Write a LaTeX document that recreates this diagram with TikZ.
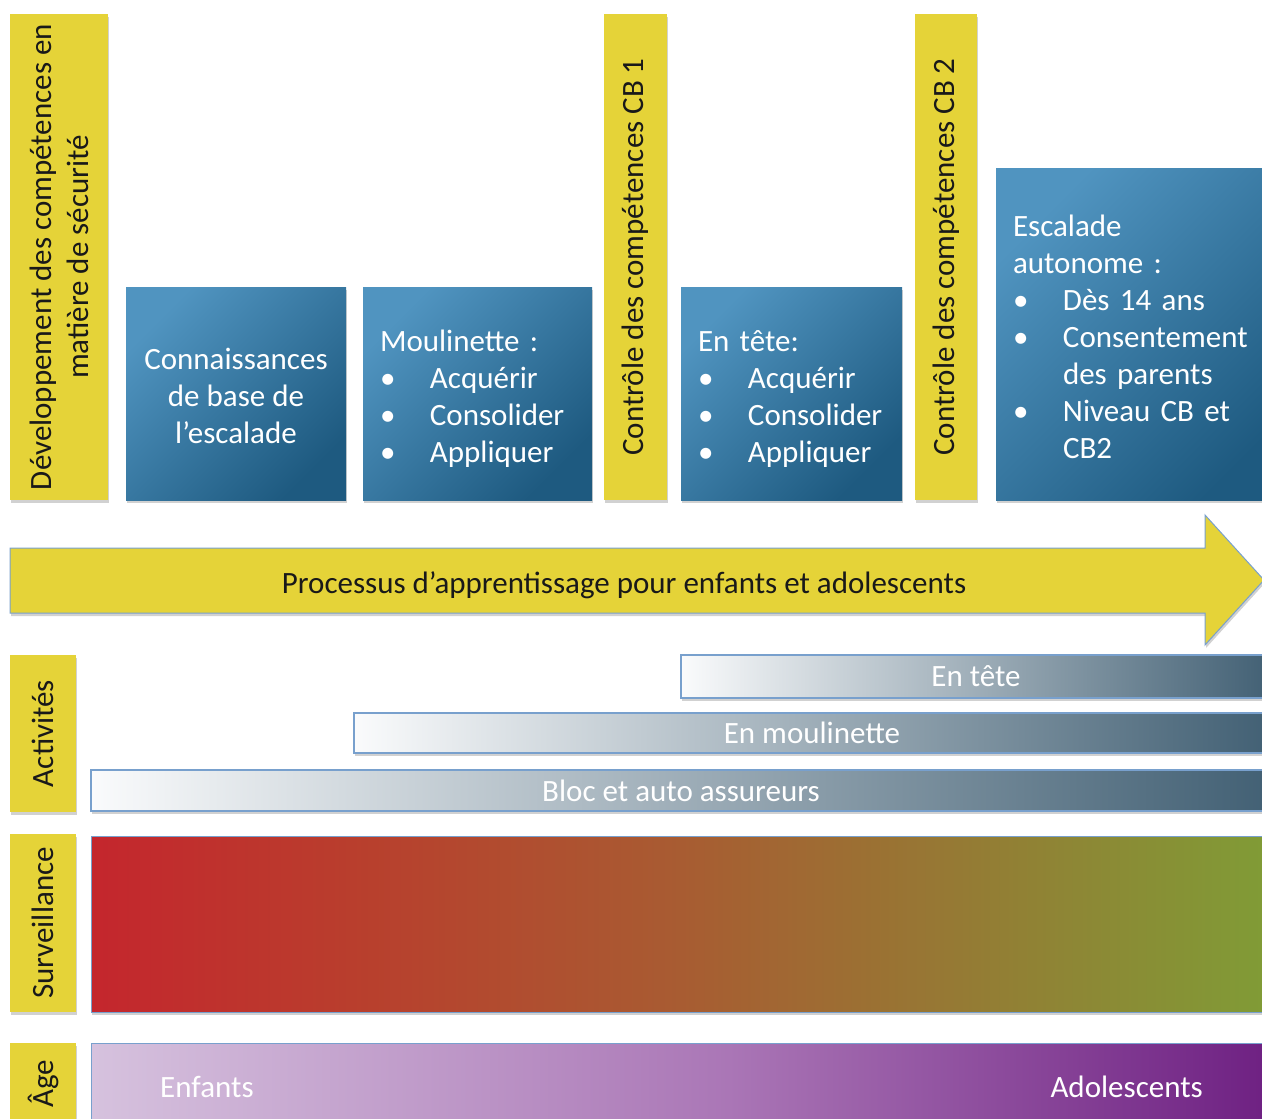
\documentclass[tikz,border=0pt]{standalone}
\usepackage{fontspec}
\setmainfont{Carlito}
\usepackage{tikz}
\usetikzlibrary{positioning,shadows}
\definecolor{cbyellow}{RGB}{229,211,56}
\definecolor{cbink}{RGB}{25,25,25}
\definecolor{cbbluelt}{RGB}{80,148,192}
\definecolor{cbbluedk}{RGB}{30,90,128}
\definecolor{cbedge}{RGB}{120,160,205}
\definecolor{cbbarlt}{RGB}{250,251,252}
\definecolor{cbbardk}{RGB}{66,96,116}
\definecolor{cbred}{RGB}{196,38,45}
\definecolor{cbrust}{RGB}{185,62,45}
\definecolor{cbbrown}{RGB}{168,92,50}
\definecolor{cbolive}{RGB}{128,156,54}
\definecolor{cblilac}{RGB}{214,194,222}
\definecolor{cbmauve}{RGB}{170,118,182}
\definecolor{cbpurple}{RGB}{110,32,130}
\pgfdeclarehorizontalshading{survshade}{100bp}{color(0bp)=(cbred); color(25bp)=(cbred); color(36bp)=(cbrust); color(50bp)=(cbbrown); color(75bp)=(cbolive); color(100bp)=(cbolive)}
\pgfdeclarehorizontalshading{ageshade}{100bp}{color(0bp)=(cblilac); color(25bp)=(cblilac); color(52bp)=(cbmauve); color(75bp)=(cbpurple); color(100bp)=(cbpurple)}
\newcommand{\bul}{\makebox[50pt][l]{\textbullet}}
\newcommand{\ind}{\hspace*{50pt}}
\tikzset{
  softshadow/.style={drop shadow={shadow xshift=1pt, shadow yshift=-3pt, opacity=0.3, fill=black!60}},
  yelbox/.style={fill=cbyellow, text=cbink, rotate=90, align=center, inner sep=0pt, softshadow},
  bluebox/.style={top color=cbbluelt, bottom color=cbbluedk, shading angle=45, text=white,
    align=left, inner xsep=17pt, inner ysep=0pt, minimum height=213pt, softshadow},
  actbar/.style={left color=cbbarlt, right color=cbbardk, draw=cbedge, line width=1.5pt,
    text=white, inner sep=0pt, softshadow},
}
\begin{document}
\begin{tikzpicture}[x=1pt, y=-1pt, font=\fontsize{31}{37}\selectfont]
  \useasboundingbox (0,0) rectangle (1262,1119);
  \clip (0,0) rectangle (1262,1119);
  % tall yellow columns
  \node[yelbox, minimum width=486pt, minimum height=98pt] (devsec) at (59,257)
    {Développement des compétences en\\matière de sécurité};
  \node[yelbox, minimum width=486pt, minimum height=63pt] (cbun) at (635.5,257)
    {Contrôle des compétences CB 1};
  \node[yelbox, minimum width=486pt, minimum height=62pt] (cbdeux) at (946,257)
    {Contrôle des compétences CB 2};
  % blue steps
  \node[bluebox, align=center, minimum width=220pt] (connbase) at (236,393.5)
    {\rule{0pt}{27pt}Connaissances\\de base de\\l’escalade};
  \node[bluebox, text width=195pt] (moulin) at (477.5,393.5)
    {\rule{0pt}{31pt}Moulinette :\\\bul Acquérir\\\bul Consolider\\\bul Appliquer};
  \node[bluebox, text width=187pt] (entete) at (791.5,393.5)
    {\rule{0pt}{31pt}En tête:\\\bul Acquérir\\\bul Consolider\\\bul Appliquer};
  \node[bluebox, text width=266pt, minimum height=332pt] (autonome) at (1146,334)
    {\rule{0pt}{27pt}Escalade\\autonome :\\\bul Dès 14 ans\\\bul Consentement\\\ind des parents\\\bul Niveau CB et\\\ind CB2};
  % big arrow
  \draw[fill=cbyellow, draw=cbedge, line width=1pt, softshadow]
    (10,548) -- (1205,548) -- (1205,515) -- (1264,580) -- (1205,645) -- (1205,613) -- (10,613) -- cycle;
  \node[text=cbink] (proc) at (624,585) {Processus d’apprentissage pour enfants et adolescents};
  % row labels
  \node[yelbox, minimum width=157pt, minimum height=66pt] (act) at (43,733.5) {Activités};
  \node[yelbox, minimum width=178pt, minimum height=66pt] (surv) at (43,923) {Surveillance};
  \node[yelbox, minimum width=82pt, minimum height=66pt] (age) at (43,1084) {Âge};
  % activity bars
  \node[actbar, minimum width=590pt, minimum height=43pt] (bartete) at (976,676.5) {En tête};
  \node[actbar, minimum width=916pt, minimum height=40pt] (barmoul) at (812,733) {En moulinette};
  \node[actbar, minimum width=1180pt, minimum height=41pt] (barbloc) at (681,790.5) {Bloc et auto assureurs};
  % surveillance and age bands
  \node[shade, shading=survshade, draw=cbedge, line width=1pt, minimum width=1180pt,
    minimum height=176pt, softshadow] (survbar) at (681,924) {};
  \node[shade, shading=ageshade, draw=cbedge, line width=1pt, minimum width=1180pt,
    minimum height=90pt] (agebar) at (681,1088) {};
  \node[anchor=west, text=white, inner sep=0pt] (enf) at (160,1087) {Enfants};
  \node[anchor=east, text=white, inner sep=0pt] (ado) at (1203,1087) {Adolescents};
\end{tikzpicture}
\end{document}
